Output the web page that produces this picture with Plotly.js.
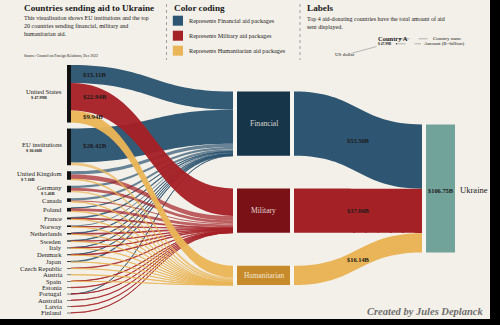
<!DOCTYPE html>
<html><head><meta charset="utf-8">
<script src="https://cdn.plot.ly/plotly-3.0.1.min.js"></script>
<style>html,body{margin:0;padding:0;background:#000;width:500px;height:325px;overflow:hidden}#chart{width:490px;height:319px}</style>
</head><body><div id="chart"></div>
<script>
// ---------------- data (US$ billions) ----------------
const donors = ['United States','EU institutions','United Kingdom','Germany','Canada','Poland','France','Norway','Netherlands','Sweden','Italy','Denmark','Japan','Czech Republic','Austria','Spain','Estonia','Portugal','Australia','Latvia','Finland'];
const financial    = [15.11,28.42,2.67,1.92,1.80,0.20,0.62,0.95,0.35,0.46,0.16,0.15,0.60,0,0,0,0,0.15,0,0,0];
const military     = [22.94,0,3.83,2.34,0.94,2.43,0.69,0.22,0.71,0.29,0.31,0.54,0,0.40,0,0.25,0.30,0.10,0.30,0.27,0.20];
const humanitarian = [9.94,2.18,0.60,1.20,0.27,0.39,0.24,0.18,0.17,0.15,0.15,0.08,0.07,0.08,0.37,0.07,0,0,0,0,0];
const aidTypes = ['Financial','Military','Humanitarian'];
const recipient = 'Ukraine';
const recipientTotalLabel = 106.75;
const labelledDonorCount = 4;

// ---------------- layout / style config ----------------
const W = 490, H = 319;
const FONT = '"Liberation Serif", "Times New Roman", serif';
const BG = '#f3f0e9';
const GAP = '#f7f5f0';
const colX = {donor: 69, typeIn: 235, typeOut: 292, ukrIn: 424, ukrOut: 457};
const sankeyTop = 65, sankeyBottom = 313;
const nodePad = 6, nodeThick = 4;
const typeCenterPx = [123.7, 210.6, 275.4];
const ukrCenterPx = 188.5;
const linkRGB = ['44,84,112','165,32,37','234,181,86'];
const boxColors = ['#163549','#7a1116','#c78b2c'];
const flowColors = ['#2e5672','#a42226','#eab558'];
const boxTextColors = ['#d9d6cf','#e3d7d5','#f3e8d2'];
const ukrColor = '#72a39b';

// ---------------- derived geometry ----------------
const series = [financial, military, humanitarian];
const total = series.flat().reduce((a,b)=>a+b,0);
const sankeyH = sankeyBottom - sankeyTop;
const ky = (sankeyH - (donors.length - 1) * nodePad) / total;
const donorTotals = donors.map((d,i)=> financial[i]+military[i]+humanitarian[i]);
const donorTop = []; let acc = sankeyTop;
donorTotals.forEach(v => { donorTop.push(acc); acc += v*ky + nodePad; });
const donorCenter = donorTotals.map((v,i)=> donorTop[i] + v*ky/2);
const typeTotals = series.map(s => s.reduce((a,b)=>a+b,0));

const nD = donors.length;
const idxTypeIn = k => nD + k, idxTypeOut = k => nD + 3 + k, idxUkrIn = nD + 6, idxUkrOut = nD + 7;
const span = colX.ukrOut - colX.donor;
const fx = px => Math.max((px - colX.donor)/span, 1e-6);
const fy = px => Math.max((px - sankeyTop)/sankeyH, 1e-6);

const nodeX = [...donors.map(()=>fx(colX.donor)), ...aidTypes.map(()=>fx(colX.typeIn)), ...aidTypes.map(()=>fx(colX.typeOut)), fx(colX.ukrIn), fx(colX.ukrOut)];
const nodeY = [...donorCenter.map(fy), ...typeCenterPx.map(fy), ...typeCenterPx.map(fy), fy(ukrCenterPx), fy(ukrCenterPx)];
const nodeColor = [...donors.map(()=>'#111'), ...aidTypes.map(()=>GAP), ...aidTypes.map(()=>GAP), GAP, BG];
const nodeLabel = nodeX.map(()=> '');

const source=[], target=[], value=[], color=[];
series.forEach((s,k)=> s.forEach((v,i)=>{ if(v>0){ source.push(i); target.push(idxTypeIn(k)); value.push(v);
  color.push('rgba(' + linkRGB[k] + ',' + (v > 5 ? 0.96 : 0.7) + ')'); } }));
typeTotals.forEach((v,k)=>{ source.push(idxTypeIn(k)); target.push(idxTypeOut(k)); value.push(v); color.push(boxColors[k]); });
typeTotals.forEach((v,k)=>{ source.push(idxTypeOut(k)); target.push(idxUkrIn); value.push(v); color.push(flowColors[k]); });
source.push(idxUkrIn); target.push(idxUkrOut); value.push(total); color.push(ukrColor);

const trace = {
  type: 'sankey', arrangement: 'fixed', orientation: 'h', hoverinfo: 'none',
  domain: {x: [colX.donor / W, colX.ukrOut / W], y: [1 - sankeyBottom/H, 1 - sankeyTop/H]},
  node: {label: nodeLabel, x: nodeX, y: nodeY, color: nodeColor, pad: nodePad, thickness: nodeThick, line: {width: 0}, hoverinfo: 'none'},
  link: {source, target, value, color, hoverinfo: 'none', line: {width: 0}}
};

// ---------------- annotations ----------------
const anns = [];
function ann(text, x, y, size, o={}) {
  return Object.assign({xref:'paper', yref:'paper', x: x/W, y: 1 - y/H, text, showarrow:false,
    xanchor:'left', yanchor:'middle', align:'left', font:{family: FONT, size, color:'#1a1a1a'}}, o);
}
const ctx = document.createElement('canvas').getContext('2d');
function textW(t, size, bold) { ctx.font = (bold?'bold ':'') + size + 'px ' + FONT; return ctx.measureText(t).width; }

const labelRight = 64, nameSize = 6.6;
donors.forEach((d,i)=>{
  if (i < labelledDonorCount) {
    const wName = textW(d, nameSize, false);
    anns.push(ann(d, labelRight, donorCenter[i]-2, nameSize, {xanchor:'right'}));
    anns.push(ann('<b>$ ' + donorTotals[i].toFixed(2) + 'B</b>', labelRight - wName, donorCenter[i]+4, 4.3, {xanchor:'left'}));
  } else {
    anns.push(ann(d, labelRight, donorCenter[i], nameSize, {xanchor:'right'}));
  }
  let off = donorTop[i];
  series.forEach((s,k)=>{ const v = s[i]; if (v>0) { if (v>5) anns.push(ann('<b>$' + v.toFixed(2) + 'B</b>', colX.donor + 12, off + v*ky/2, 6.8)); off += v*ky; } });
});
aidTypes.forEach((t,k)=> anns.push(ann(t, (colX.typeIn+colX.typeOut)/2, typeCenterPx[k], 7.4, {xanchor:'center', font:{family:FONT, size:k===2?7.3:7.6, color: boxTextColors[k]}})));
let uOff = ukrCenterPx - total*ky/2;
typeTotals.forEach((v,k)=>{
  const yc = (typeCenterPx[k] + uOff + v*ky/2)/2;
  anns.push(ann('<b>$' + v.toFixed(2) + 'B</b>', (colX.typeOut + colX.ukrIn)/2, yc, 6.4, {xanchor:'center'}));
  uOff += v*ky;
});
anns.push(ann('<b>$' + recipientTotalLabel.toFixed(2) + 'B</b>', (colX.ukrIn + colX.ukrOut)/2 + 0.5, ukrCenterPx + 1.5, 6.4, {xanchor:'center'}));
anns.push(ann(recipient, colX.ukrOut + 1, ukrCenterPx + 1.5, 8.6));

// header
anns.push(ann('<b>Countries sending aid to Ukraine</b>', 21.5, 8.5, 9.2));
anns.push(ann('This visualisation shows EU institutions and the top<br>20 countries sending financial, military and<br>humanitarian aid.', 21.5, 25.5, 6));
anns.push(ann('Source: Council on Foreign Relations, Dec 2022', 21.5, 56.7, 3.8));
anns.push(ann('<b>Color coding</b>', 172, 8.5, 9.2));
const legendRows = [20.7, 35.7, 50.7];
aidTypes.forEach((t,k)=> anns.push(ann('Represents ' + t + ' aid packages', 186.5, legendRows[k], 6.2)));
anns.push(ann('<b>Labels</b>', 305, 8, 9.2));
anns.push(ann('Top 4 aid-donating countries have the total amount of aid<br>sent displayed.', 305, 22.8, 6));
anns.push(ann('<b>Country A</b>', 375.5, 39, 6.5));
anns.push(ann('<b>$ 47.99B</b>', 375.5, 44, 3.6));
anns.push(ann('Country name', 431, 38.6, 5));
anns.push(ann('Amount (B=billion)', 422, 43.8, 5));
anns.push(ann('US dollar', 332.5, 54.3, 5));
anns.push(ann('<b><i>Created by Jules Deplanck</i></b>', 486, 311.5, 10.5, {xanchor:'right', font:{family:FONT, size:10.5, color:'#6e6e6e'}}));

// shapes (header decoration)
const shapes = [];
function shp(o){ return Object.assign({xref:'paper', yref:'paper'}, o); }
function line(x0,y0,x1,y1,c,w,dash){ shapes.push(shp({type:'line', x0:x0/W, x1:x1/W, y0:1-y0/H, y1:1-y1/H, line:{color:c, width:w, dash}})); }
line(166.5, 4, 166.5, 60, '#8a8a8a', 0.8, 'dot');
line(300, 4, 300, 60, '#8a8a8a', 0.8, 'dot');
legendRows.forEach((yc,k)=> shapes.push(shp({type:'rect', x0:172.8/W, x1:183/W, y0:1-(yc-5)/H, y1:1-(yc+5)/H, fillcolor: flowColors[k], line:{width:0}})));
line(400.5, 38.8, 430, 38.8, '#777', 0.5, 'dash');
line(396.5, 43.8, 421, 43.8, '#777', 0.5, 'dash');
line(351.5, 53.3, 376.5, 46.5, '#777', 0.5, 'solid');
[[400.5,38.8],[396.5,43.8]].forEach(p=> shapes.push(shp({type:'circle', x0:(p[0]-0.7)/W, x1:(p[0]+0.7)/W, y0:1-(p[1]-0.7)/H, y1:1-(p[1]+0.7)/H, fillcolor:'#444', line:{width:0}})));

const layout = {width: W, height: H, margin:{l:0,r:0,t:0,b:0}, paper_bgcolor: BG, plot_bgcolor: BG,
  font:{family: FONT}, annotations: anns, shapes, showlegend:false};
Plotly.newPlot('chart', [trace], layout, {displayModeBar:false, staticPlot:true});
</script></body></html>
